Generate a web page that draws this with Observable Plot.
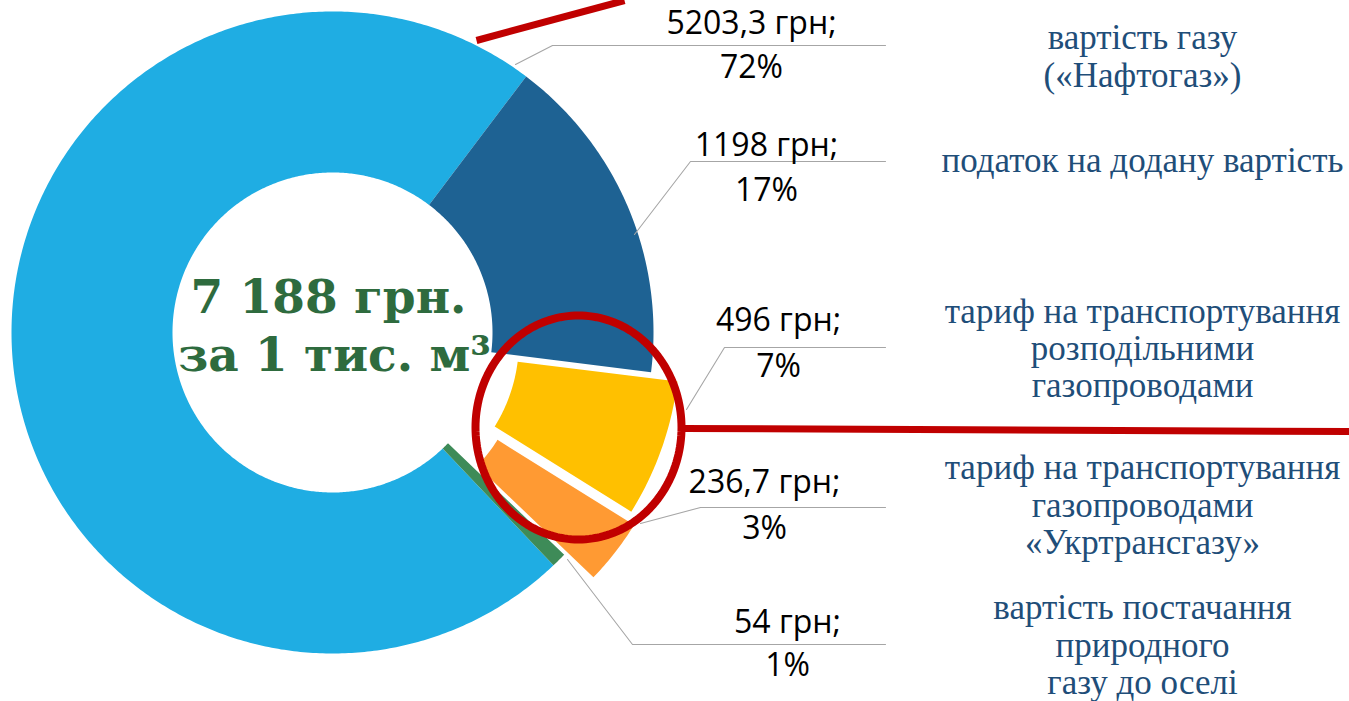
<!DOCTYPE html>
<html>
<head>
<meta charset="utf-8">
<script src="https://cdn.jsdelivr.net/npm/d3@7"></script>
<script src="https://cdn.jsdelivr.net/npm/@observablehq/plot@0.6"></script>
<style>
html, body { margin: 0; padding: 0; background: #fff; overflow: hidden; }
</style>
</head>
<body>
<div id="chart"></div>
<script>
// ---------------- data ----------------
const categories = [
  "вартість газу\n(«Нафтогаз»)",
  "податок на додану вартість",
  "тариф на транспортування\nрозподільними\nгазопроводами",
  "тариф на транспортування\nгазопроводами\n«Укртрансгазу»",
  "вартість постачання\nприродного\nгазу до оселі"
];
const values = [5203.3, 1198, 496, 236.7, 54];
const colors = ["#1fade3", "#1e6293", "#ffc000", "#ff9a33", "#3e8b58"];
const unit = "грн";
const centerSuffix = "грн.";
const centerLine2 = "за 1 тис. м³";

// ---------------- layout (not data) ----------------
const W = 1349, H = 701;
const CX = 332, CY = 332, R_OUT = 321, R_IN = 160, START_DEG = 136.5;
const explode = [0, 0, 28, 37, 0];
const valueLabelX = [751, 766, 778, 764, 787];
const valueLabelY1 = [33, 155, 330, 492, 632];
const valueLabelY2 = [77, 200, 376, 538, 675];
const leaderPts = [
  [[515, 64], [552, 45], [885, 45]],
  [[634, 234], [690, 161], [885, 161]],
  [[686, 409], [724, 347], [885, 347]],
  [[640, 523], [700, 507], [885, 507]],
  [[567, 559], [632, 644], [885, 644]]
];
const catX = 1142;
const catY = [[48, 86], [171], [322, 359, 396], [478, 516, 553], [618, 656, 693]];

// ---------------- derived ----------------
const total = d3.sum(values);
const fmtTotal = d3.formatLocale({decimal: ",", thousands: " ", grouping: [3], currency: ["", ""]}).format(",");
const fmtVal = v => String(v).replace(".", ",");
const rad = d => d * Math.PI / 180;

const pie = d3.pie().sort(null).value(d => d)
  .startAngle(rad(START_DEG)).endAngle(rad(START_DEG + 360));
const arcs = pie(values);

function pt(a, r, ox, oy) { return {x: CX + ox + r * Math.sin(a), y: CY + oy - r * Math.cos(a)}; }

const slicePolys = arcs.map((a, i) => {
  const mid = (a.startAngle + a.endAngle) / 2;
  const ox = explode[i] * Math.sin(mid), oy = -explode[i] * Math.cos(mid);
  const n = Math.max(8, Math.ceil((a.endAngle - a.startAngle) / 0.01));
  const pts = [];
  for (let k = 0; k <= n; k++) pts.push(pt(a.startAngle + (a.endAngle - a.startAngle) * k / n, R_OUT, ox, oy));
  for (let k = n; k >= 0; k--) pts.push(pt(a.startAngle + (a.endAngle - a.startAngle) * k / n, R_IN, ox, oy));
  return pts;
});

const leaders = leaderPts.flatMap((pts, i) => pts.map(([x, y]) => ({x, y, k: i})));

const valueRows = values.flatMap((v, i) => [
  {x: valueLabelX[i], y: valueLabelY1[i], t: `${fmtVal(v)} ${unit};`},
  {x: valueLabelX[i], y: valueLabelY2[i], t: `${Math.round(v / total * 100)}%`}
]);

const catRows = categories.flatMap((c, i) => c.split("\n").map((t, j) => ({x: catX, y: catY[i][j], t})));

// red annotation ellipse
const ell = d3.range(0, 181).map(k => {
  const a = k / 180 * 2 * Math.PI;
  return {x: 578 + 103 * Math.cos(a), y: 427 + 112 * Math.sin(a)};
});
const redLines = [
  {x1: 476, y1: 40, x2: 624, y2: 0},
  {x1: 684, y1: 428, x2: 1349, y2: 431}
];

const marks = [];
slicePolys.forEach((p, i) => marks.push(
  Plot.line(p, {x: "x", y: "y", fill: colors[i], stroke: "none", curve: "linear-closed"})
));
marks.push(Plot.line(leaders, {x: "x", y: "y", z: "k", stroke: "#a6a6a6", strokeWidth: 1.1}));
marks.push(Plot.text(valueRows, {x: "x", y: "y", text: "t", fontSize: 32, fontFamily: "Open Sans, Noto Sans, sans-serif", fill: "#000", textAnchor: "middle", lineAnchor: "bottom"}));
marks.push(Plot.text(catRows, {x: "x", y: "y", text: "t", fontSize: 35, fontFamily: "Liberation Serif, serif", fill: "#1f4e79", textAnchor: "middle", lineAnchor: "bottom"}));
marks.push(Plot.text([{x: 328, y: 312, t: `${fmtTotal(total)} ${centerSuffix}`}, {x: 334, y: 370, t: centerLine2}],
  {x: "x", y: "y", text: "t", fontSize: 47, fontWeight: "bold", fontFamily: "DejaVu Serif, serif", fill: "#2e6b3e", textAnchor: "middle", lineAnchor: "bottom"}));
marks.push(Plot.line(ell, {x: "x", y: "y", stroke: "#c00000", strokeWidth: 8, curve: "linear-closed", fill: "none"}));
marks.push(Plot.link(redLines, {x1: "x1", y1: "y1", x2: "x2", y2: "y2", stroke: "#c00000", strokeWidth: 7}));

const chart = Plot.plot({
  width: W, height: H,
  margin: 0,
  x: {domain: [0, W], axis: null},
  y: {domain: [0, H], reverse: true, axis: null},
  style: {background: "#fff", overflow: "hidden"},
  marks
});
document.getElementById("chart").appendChild(chart);
</script>
</body>
</html>
